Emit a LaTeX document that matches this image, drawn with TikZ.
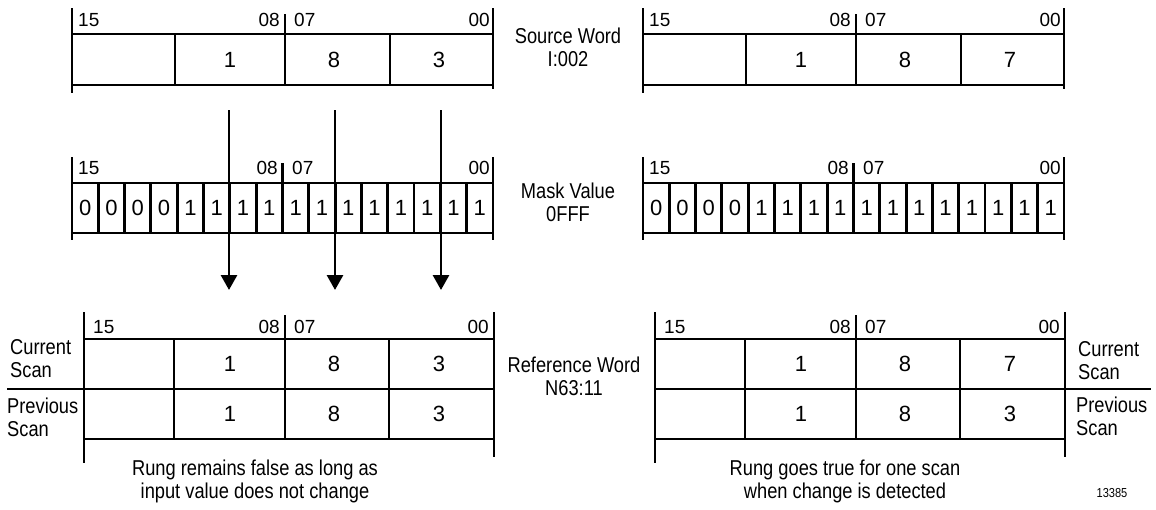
\documentclass[tikz,border=0pt]{standalone}
\usepackage{fontspec}
\setmainfont{Liberation Sans}
\newfontfamily\condfont{Liberation Sans}[FakeStretch=0.85]
\usetikzlibrary{positioning,arrows.meta}

\begin{document}
\begin{tikzpicture}[x=1pt, y=-1pt,
  frame/.style={line width=2.9pt},
  bitno/.style={font=\fontsize{19}{19}\selectfont, inner sep=0pt},
  val/.style={font=\fontsize{22}{22}\selectfont, inner sep=0pt},
  lbl/.style={font=\condfont\fontsize{21.5}{23}\selectfont, align=center, inner sep=0pt},
  side/.style={font=\condfont\fontsize{21.5}{23}\selectfont, align=left, inner sep=0pt},
  arr/.style={-{Triangle[length=15pt, width=16pt]}, line width=2.9pt}
]
\useasboundingbox (0,0) rectangle (1156,509);

% source words
\foreach \s/\dx/\c in {l/72/3, r/643/7} {
  \begin{scope}[shift={(\dx,0)}]
    \draw[frame] (0,8) -- (0,93);
    \draw[frame] (421,8) -- (421,89);
    \draw[frame] (0,34) -- (421,34);
    \draw[frame] (0,85) -- (421,85);
    \draw[frame] (103,34) -- (103,85);
    \draw[frame] (213,14) -- (213,85);
    \draw[frame] (318,34) -- (318,85);
    \node[bitno, anchor=west] (src15\s) at (6,20) {15};
    \node[bitno, anchor=east] (src08\s) at (208,20) {08};
    \node[bitno, anchor=west] (src07\s) at (222,20) {07};
    \node[bitno, anchor=east] (src00\s) at (418,20) {00};
    \node[val] (srca\s) at (158,60) {1};
    \node[val] (srcb\s) at (262,60) {8};
    \node[val] (srcc\s) at (367,60) {\c};
  \end{scope}
}

% mask words
\foreach \s/\dx in {l/72, r/643} {
  \begin{scope}[shift={(\dx,0)}]
    \draw[frame] (0,157) -- (0,240);
    \draw[frame] (421,157) -- (421,240);
    \draw[frame] (0,183) -- (421,183);
    \draw[frame] (0,233) -- (421,233);
    \foreach \i in {1,...,15}
      \draw[frame] ({\i*26.31},183) -- ({\i*26.31},233);
    \draw[frame] (210.5,163) -- (210.5,183);
    \node[bitno, anchor=west] (msk15\s) at (6,168) {15};
    \node[bitno, anchor=east] (msk08\s) at (206,168) {08};
    \node[bitno, anchor=west] (msk07\s) at (220,168) {07};
    \node[bitno, anchor=east] (msk00\s) at (418,168) {00};
    \foreach \i in {0,...,15} {
      \pgfmathtruncatemacro\b{\i<4 ? 0 : 1}
      \node[val] (bit\i\s) at ({(\i+0.5)*26.31},208) {\b};
    }
  \end{scope}
}

% reference words
\foreach \s/\dx/\c in {l/84/3, r/655/7} {
  \begin{scope}[shift={(\dx,0)}]
    \draw[frame] (0,312) -- (0,463);
    \draw[frame] (410,312) -- (410,457);
    \draw[frame] (0,339) -- (410,339);
    \draw[frame] (0,439) -- (410,439);
    \draw[frame] (90,339) -- (90,439);
    \draw[frame] (201,315) -- (201,439);
    \draw[frame] (305,339) -- (305,439);
    \node[bitno, anchor=west] (ref15\s) at (9,327) {15};
    \node[bitno, anchor=east] (ref08\s) at (196,327) {08};
    \node[bitno, anchor=west] (ref07\s) at (210,327) {07};
    \node[bitno, anchor=east] (ref00\s) at (405,327) {00};
    \node[val] (cura\s) at (146,364) {1};
    \node[val] (curb\s) at (250,364) {8};
    \node[val] (curc\s) at (355,364) {\c};
    \node[val] (preva\s) at (146,414) {1};
    \node[val] (prevb\s) at (250,414) {8};
    \node[val] (prevc\s) at (355,414) {3};
  \end{scope}
}
\draw[frame] (7,389) -- (494,389);
\draw[frame] (655,389) -- (1151,389);

% labels
\node[lbl] (srcword) at (568,47) {Source Word\\I:002};
\node[lbl] (maskval) at (568,202) {Mask Value\\0FFF};
\node[lbl] (refword) at (574,376) {Reference Word\\N63:11};
\node[side, anchor=west] (curl) at (10,359) {Current\\Scan};
\node[side, anchor=west] (prevl) at (7,417) {Previous\\Scan};
\node[side, anchor=west] (curr) at (1078,361) {Current\\Scan};
\node[side, anchor=west] (prevr) at (1076,416) {Previous\\Scan};
\node[lbl] (capl) at (255,481) {Rung remains false as long as\\input value does not change};
\node[lbl] (capr) at (845,481) {Rung goes true for one scan\\when change is detected};
\node[font=\condfont\fontsize{13}{13}\selectfont, inner sep=0pt] (fig) at (1112,493) {13385};

% arrows
\foreach \n/\x in {a/229, b/335, c/441} {
  \coordinate (\n top) at (\x,110);
  \coordinate (\n tip) at (\x,290);
  \draw[arr] (\n top) -- (\n tip);
}
\end{tikzpicture}
\end{document}
